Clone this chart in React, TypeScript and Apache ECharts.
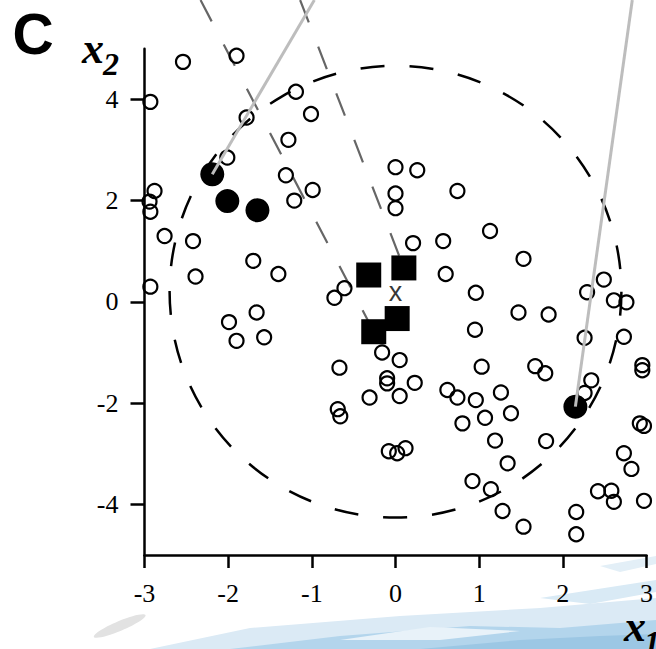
import React, { useEffect, useRef } from 'react';
import * as echarts from 'echarts';

// ---- data ----
const xTickValues = [-3, -2, -1, 0, 1, 2, 3];
const yTickValues = [-4, -2, 0, 2, 4];

const openCircles: [number, number][] = [
  [-2.54, 4.74], [-1.9, 4.86], [-2.93, 3.95], [-1.19, 4.15], [-1.01, 3.71],
  [-1.78, 3.64], [-1.28, 3.2], [-2.01, 2.85], [-1.31, 2.5], [-0.99, 2.21],
  [-1.21, 2.0], [-2.88, 2.19], [-2.94, 1.98], [-2.93, 1.78], [-2.76, 1.3],
  [-2.42, 1.2], [-1.7, 0.81], [-1.4, 0.55], [-2.39, 0.5], [-2.93, 0.3],
  [0.0, 2.66], [0.26, 2.6], [0.0, 2.14], [0.0, 1.85], [0.74, 2.19],
  [1.13, 1.4], [0.21, 1.16], [0.57, 1.2], [0.6, 0.55], [0.96, 0.18],
  [-0.61, 0.27], [-0.73, 0.08], [1.53, 0.85], [2.29, 0.19], [2.49, 0.44],
  [2.61, 0.03], [2.76, -0.01], [1.47, -0.21], [1.83, -0.25], [0.95, -0.55],
  [2.26, -0.71], [2.73, -0.69], [1.03, -1.28], [1.67, -1.27], [1.79, -1.41],
  [2.95, -1.25], [2.95, -1.35], [2.34, -1.55], [2.26, -1.8], [1.26, -1.79],
  [0.96, -1.94], [1.07, -2.29], [1.38, -2.2], [2.92, -2.4], [2.97, -2.45],
  [1.19, -2.74], [1.8, -2.75], [2.73, -2.99], [2.82, -3.3], [1.34, -3.19],
  [0.92, -3.54], [1.14, -3.7], [2.42, -3.74], [2.58, -3.73], [2.61, -3.95],
  [2.97, -3.93], [1.28, -4.13], [1.53, -4.44], [2.16, -4.15], [2.16, -4.59],
  [-0.16, -1.0], [0.05, -1.15], [-0.67, -1.3], [-0.1, -1.51], [-0.1, -1.61],
  [0.23, -1.6], [-0.31, -1.89], [0.05, -1.86], [0.62, -1.74], [0.74, -1.89],
  [-0.69, -2.12], [-0.66, -2.26], [0.8, -2.4], [-0.08, -2.95], [0.02, -2.99],
  [0.12, -2.89], [-1.99, -0.4], [-1.66, -0.21], [-1.9, -0.77], [-1.57, -0.7],
];

const filledCircles: [number, number][] = [
  [-2.19, 2.52], [-2.01, 1.99], [-1.65, 1.81], [2.15, -2.07],
];

const squares: [number, number][] = [
  [-0.32, 0.53], [0.1, 0.67], [-0.26, -0.59], [0.02, -0.33],
];

const centroid: [number, number] = [0, 0.2];
const circleRadiusX = 2.7;

const dashedLinkA: [number, number][] = [[-2.33, 5.96], [-0.26, -0.59]];
const dashedLinkB: [number, number][] = [[-1.14, 5.96], [0.1, 0.67]];
const solidLinkC: [number, number][] = [[-0.97, 5.96], [-2.19, 2.52]];
const solidLinkD: [number, number][] = [[2.83, 5.96], [2.15, -2.07]];

const serif = "'Liberation Serif', 'Times New Roman', serif";
const sans = "'Liberation Sans', Arial, sans-serif";

export default function App() {
  const ref = useRef<HTMLDivElement>(null);

  useEffect(() => {
    if (!ref.current) return;
    const chart = echarts.init(ref.current, undefined, { renderer: 'svg' });

    const dashedLine = (data: [number, number][]) => ({
      type: 'line',
      data,
      symbol: 'none',
      clip: false,
      silent: true,
      z: 3,
      lineStyle: { color: '#666666', width: 2.2, type: [24, 26], opacity: 1 },
    });
    const solidLine = (data: [number, number][]) => ({
      type: 'line',
      data,
      symbol: 'none',
      clip: false,
      silent: true,
      z: 8,
      lineStyle: { color: '#bdbdbd', width: 3, type: 'solid', opacity: 1 },
    });

    const italicLabel = (text: string, x: number, y: number, size: number) => ({
      type: 'text',
      z: 100,
      x,
      y,
      style: {
        text,
        fontFamily: serif,
        fontWeight: 'bold',
        fontStyle: 'italic',
        fontSize: size,
        fill: '#000',
        align: 'center',
        verticalAlign: 'middle',
      },
    });

    chart.setOption({
      animation: false,
      grid: { left: 144.5, right: 7.5, top: 48.7, bottom: 94, containLabel: false },
      xAxis: {
        type: 'value',
        min: -3,
        max: 3,
        interval: 1,
        splitLine: { show: false },
        axisLine: { onZero: false, lineStyle: { color: '#000', width: 2.5 } },
        axisTick: { show: true, length: 13, lineStyle: { color: '#000', width: 2.5 } },
        axisLabel: {
          margin: 25,
          color: '#000',
          fontFamily: serif,
          fontSize: 26,
          customValues: xTickValues,
        },
      },
      yAxis: {
        type: 'value',
        min: -5,
        max: 5,
        splitLine: { show: false },
        axisLine: { onZero: false, lineStyle: { color: '#000', width: 2.5 } },
        axisTick: {
          show: true,
          length: 14,
          lineStyle: { color: '#000', width: 2.5 },
          customValues: yTickValues,
        },
        axisLabel: {
          margin: 26,
          color: '#000',
          fontFamily: serif,
          fontSize: 26,
          customValues: yTickValues,
        },
      },
      graphic: [
        {
          type: 'polygon',
          z: -10,
          shape: { points: [[150, 649], [250, 628], [400, 616], [540, 608], [656, 598], [656, 649]] },
          style: { fill: '#dbeaf5' },
        },
        {
          type: 'polygon',
          z: -9,
          shape: { points: [[230, 649], [340, 636], [470, 626], [560, 628], [656, 620], [656, 649]] },
          style: { fill: '#b3d5ec' },
        },
        {
          type: 'polygon',
          z: -8,
          shape: { points: [[420, 649], [520, 640], [600, 636], [656, 634], [656, 649]] },
          style: { fill: '#9cc7e4' },
        },
        {
          type: 'polygon',
          z: -9,
          shape: { points: [[540, 598], [656, 580], [656, 592], [590, 604]] },
          style: { fill: '#d9eaf5' },
        },
        {
          type: 'polygon',
          z: -9,
          shape: { points: [[600, 566], [656, 556], [656, 564], [620, 572]] },
          style: { fill: '#e3eff7' },
        },
        {
          type: 'polygon',
          z: -7,
          shape: { points: [[340, 640], [430, 627], [520, 631], [440, 640]] },
          style: { fill: '#e8f2f9' },
        },
        {
          type: 'ellipse',
          z: -9,
          shape: { cx: 120, cy: 626, rx: 28, ry: 5 },
          rotation: 0.4,
          originX: 120,
          originY: 626,
          style: { fill: '#e2e2e2' },
        },
        {
          type: 'text',
          z: 100,
          x: 33,
          y: 34,
          style: {
            text: 'C',
            fontFamily: sans,
            fontWeight: 'bold',
            fontSize: 57,
            fill: '#000',
            align: 'center',
            verticalAlign: 'middle',
          },
        },
        italicLabel('x', 93, 48, 44),
        italicLabel('2', 111, 64, 32),
        italicLabel('x', 635, 626, 44),
        italicLabel('1', 652, 642, 32),
      ],
      series: [
        {
          type: 'custom',
          silent: true,
          z: 2,
          data: [[centroid[0], centroid[1], circleRadiusX]],
          renderItem: (_params: any, api: any) => {
            const c = api.coord([api.value(0), api.value(1)]);
            const e = api.coord([api.value(0) + api.value(2), api.value(1)]);
            const r = e[0] - c[0];
            return {
              type: 'circle',
              shape: { cx: c[0], cy: c[1], r },
              style: { fill: 'none', stroke: '#000', lineWidth: 2.5, lineDash: [24, 25] },
            };
          },
        },
        dashedLine(dashedLinkA),
        dashedLine(dashedLinkB),
        {
          type: 'scatter',
          silent: true,
          z: 5,
          data: openCircles,
          symbol: 'circle',
          symbolSize: 14,
          itemStyle: { color: 'rgba(0,0,0,0)', borderColor: '#000', borderWidth: 2.2, opacity: 1 },
        },
        {
          type: 'scatter',
          silent: true,
          z: 6,
          data: filledCircles,
          symbol: 'circle',
          symbolSize: 24,
          itemStyle: { color: '#000', opacity: 1 },
        },
        {
          type: 'scatter',
          silent: true,
          z: 6,
          data: squares,
          symbol: 'rect',
          symbolSize: 25,
          itemStyle: { color: '#000', opacity: 1 },
        },
        solidLine(solidLinkC),
        solidLine(solidLinkD),
        {
          type: 'scatter',
          silent: true,
          z: 9,
          data: [centroid],
          symbol: 'circle',
          symbolSize: 1,
          itemStyle: { color: 'rgba(0,0,0,0)' },
          label: {
            show: true,
            position: 'inside',
            formatter: 'x',
            fontFamily: sans,
            fontSize: 27,
            color: '#000',
          },
        },
      ],
    });

    return () => chart.dispose();
  }, []);

  return (
    <div
      ref={ref}
      style={{ position: 'fixed', left: 0, top: 0, width: 656, height: 649, background: '#fff' }}
    />
  );
}
